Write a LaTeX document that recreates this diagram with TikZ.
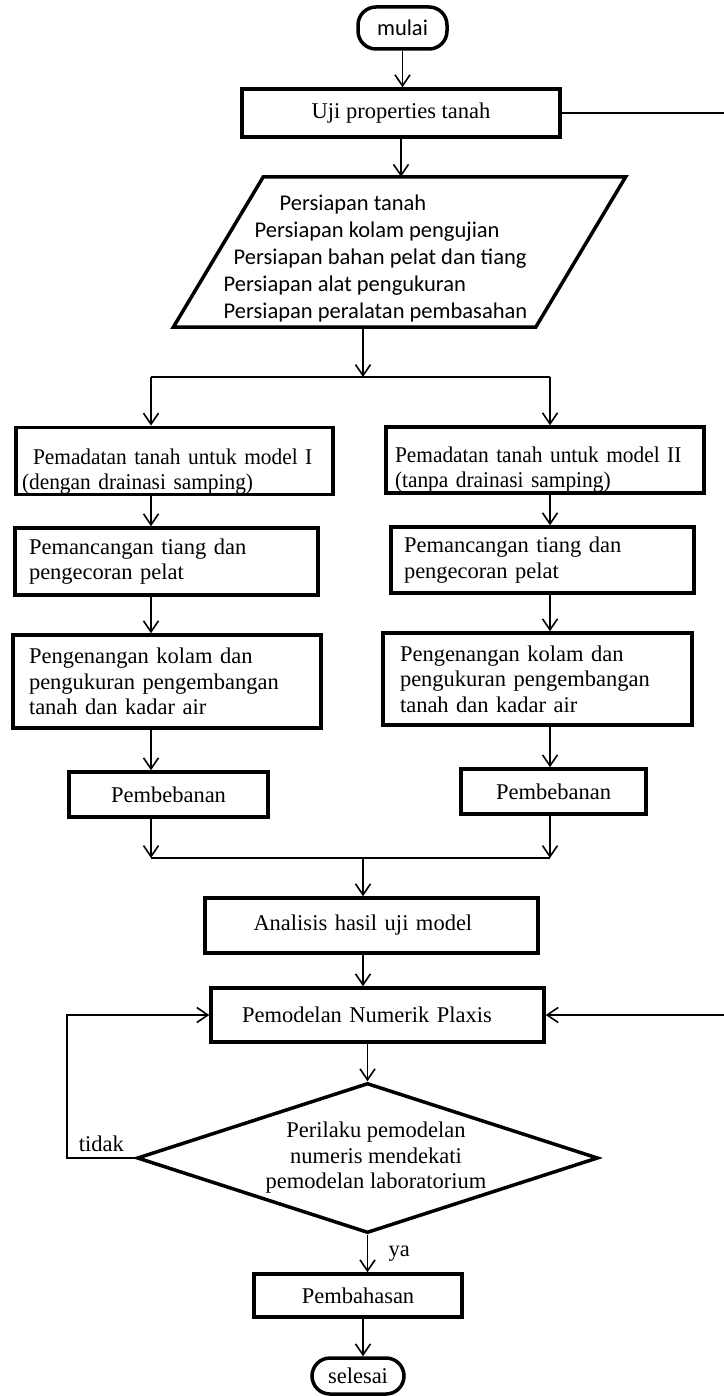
\documentclass[tikz,border=0pt]{standalone}
\usepackage{fontspec}
\setmainfont{Liberation Serif}
\newfontfamily\calibri{Carlito}
\newfontfamily\sempit{Liberation Serif}[FakeStretch=0.95]
\usetikzlibrary{shapes.geometric, arrows.meta}

\begin{document}
\begin{tikzpicture}
	[
	x=1pt, y=-1pt,
	every node/.style={font=\fontsize{22.5}{25.5}\selectfont},
	terminal/.style={draw, line width=3.5pt, rounded corners=18pt, inner sep=0pt},
	proses/.style={draw, line width=3.5pt, align=left, inner sep=0pt},
	keputusan/.style={draw, line width=3.5pt, diamond, aspect=3.07, inner sep=0pt, align=center},
	garis/.style={line width=1.6pt},
	panah/.style={garis, -{Straight Barb[length=11pt, width=15pt]}}
	]
		\useasboundingbox (0,0) rectangle (723,1396);

		% awal
		\node[terminal, minimum width=89pt, minimum height=42pt, font=\calibri\fontsize{22.5}{27}\selectfont] (mulai) at (402.5,28) {mulai};
		\node[proses, align=center, minimum width=318pt, minimum height=48pt] (uji) at (401,113) {Uji properties tanah};

		% persiapan (jajaran genjang)
		\node[minimum width=362pt, minimum height=150pt, inner sep=0pt] (persiapan) at (399.5,252) {};
		\draw[line width=3.5pt] ([xshift=-45pt]persiapan.south west) -- ([xshift=-45pt]persiapan.south east)
			-- ([xshift=45pt]persiapan.north east) -- ([xshift=45pt]persiapan.north west) -- cycle;
		\node[font=\calibri\fontsize{22.5}{27}\selectfont, align=left, inner sep=0pt] (isi) at (375.5,258.5)
			{\hspace*{56pt}Persiapan tanah\\ \hspace*{31pt}Persiapan kolam pengujian\\ \hspace*{10pt}Persiapan bahan pelat dan tiang\\ Persiapan alat pengukuran\\ Persiapan peralatan pembasahan};

		% model I
		\node[proses, minimum width=317pt, minimum height=64pt, text width=305pt, font=\sempit\fontsize{22.5}{25.5}\selectfont] (padatI) at (174.5,461) {\rule{0pt}{37pt}\hspace*{11pt}Pemadatan tanah untuk model I\\(dengan drainasi samping)};
		\node[proses, minimum width=303pt, minimum height=67pt, text width=275pt] (pancangI) at (166.5,561.5) {Pemancangan tiang dan\\pengecoran pelat};
		\node[proses, minimum width=308pt, minimum height=93pt, text width=276pt] (genangI) at (167,681.5) {Pengenangan kolam dan\\pengukuran pengembangan\\tanah dan kadar air};
		\node[proses, align=center, minimum width=199pt, minimum height=45pt] (bebanI) at (168.5,794.5) {Pembebanan};

		% model II
		\node[proses, minimum width=318pt, minimum height=66pt, text width=300pt, font=\sempit\fontsize{22.5}{25.5}\selectfont] (padatII) at (545,460) {\rule{0pt}{35pt}Pemadatan tanah untuk model II\\(tanpa drainasi samping)};
		\node[proses, minimum width=303pt, minimum height=66pt, text width=277pt] (pancangII) at (542.5,560) {Pemancangan tiang dan\\pengecoran pelat};
		\node[proses, minimum width=309pt, minimum height=92pt, text width=275pt] (genangII) at (537.5,679) {Pengenangan kolam dan\\pengukuran pengembangan\\tanah dan kadar air};
		\node[proses, align=center, minimum width=185pt, minimum height=45pt] (bebanII) at (553.5,791.5) {Pembebanan};

		% analisis dan pemodelan
		\node[proses, minimum width=333pt, minimum height=55pt, text width=236pt] (analisis) at (371.5,925.5) {Analisis hasil uji model};
		\node[proses, minimum width=333pt, minimum height=54pt, text width=271pt] (plaxis) at (377.5,1015) {Pemodelan Numerik Plaxis};
		\node[keputusan, minimum width=461pt, minimum height=150pt] (perilaku) at (367.5,1158)
			{\hspace*{17pt}Perilaku pemodelan\\ \hspace*{17pt}numeris mendekati\\ \hspace*{17pt}pemodelan laboratorium};
		\node[proses, align=center, minimum width=208pt, minimum height=43pt] (bahas) at (358,1295.5) {Pembahasan};
		\node[terminal, minimum width=92pt, minimum height=36pt] (selesai) at (358,1376) {selesai};

		% titik bantu
		\coordinate (kiri) at (151,0);
		\coordinate (kanan) at (550,0);
		\coordinate (tengah) at (363,0);
		\coordinate (cabang) at (363,377);
		\coordinate (gabung) at (363,858);

		% drawing code
		\draw[panah] (mulai.south) -- (mulai.south |- uji.north);
		\draw[panah] (uji.south) -- (uji.south |- persiapan.north);
		\draw[panah] (persiapan.south -| tengah) -- (cabang);
		\draw[garis] (kiri |- cabang) -- (kanan |- cabang);
		\draw[panah] (kiri |- cabang) -- (kiri |- padatI.north);
		\draw[panah] (kanan |- cabang) -- (kanan |- padatII.north);
		\foreach \from/\to in {padatI/pancangI,pancangI/genangI,genangI/bebanI} \draw[panah] (\from.south -| kiri) -- (\to.north -| kiri);
		\foreach \from/\to in {padatII/pancangII,pancangII/genangII,genangII/bebanII} \draw[panah] (\from.south -| kanan) -- (\to.north -| kanan);
		\draw[panah] (bebanI.south -| kiri) -- (kiri |- gabung);
		\draw[panah] (bebanII.south -| kanan) -- (kanan |- gabung);
		\draw[garis] (kiri |- gabung) -- (kanan |- gabung);
		\draw[panah] (gabung) -- (tengah |- analisis.north);
		\draw[panah] (analisis.south -| tengah) -- (tengah |- plaxis.north);
		\draw[panah] (plaxis.south -| perilaku.north) -- (perilaku.north);
		\draw[panah] (perilaku.south) -- node[right, xshift=17pt] (ya) {ya} (perilaku.south |- bahas.north);
		\draw[panah] (bahas.south -| tengah) -- (tengah |- selesai.north);
		\draw[panah] (perilaku.west) -- node[above, inner sep=5pt] (tidak) {tidak} ++(-68,0) |- (plaxis.west);
		\draw[panah] (uji.east) -- ++(170,0) |- (plaxis.east);
	\end{tikzpicture}
\end{document}
